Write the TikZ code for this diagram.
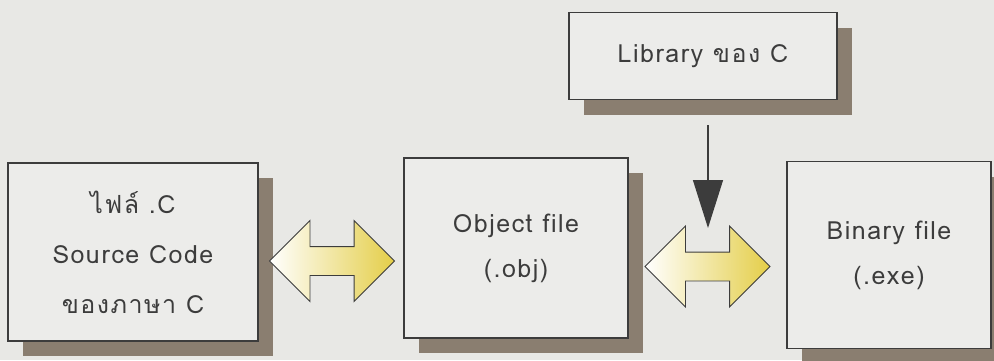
\documentclass[tikz,border=0pt]{standalone}
\usepackage{fontspec}
\newfontfamily\thaifont[Script=Thai,LetterSpace=6]{Loma}
\usetikzlibrary{shapes.arrows,shadows,arrows.meta,calc}

\definecolor{paper}{RGB}{232,232,229}
\definecolor{boxfill}{RGB}{236,236,234}
\definecolor{shadowbrown}{RGB}{138,126,112}
\definecolor{arrowyellow}{RGB}{228,206,72}
\definecolor{inkgray}{RGB}{60,60,60}

\begin{document}
\begin{tikzpicture}[x=1pt,y=-1pt,
  box/.style={draw=inkgray,line width=1.3pt,fill=boxfill,inner sep=0pt,
    align=center,text=inkgray,font=\thaifont\fontsize{25}{45}\selectfont,
    drop shadow={shadow xshift=15pt,shadow yshift=-15pt,fill=shadowbrown,opacity=1}},
  both/.style={double arrow,draw=inkgray,line width=0.9pt,inner xsep=0pt,inner ysep=14pt,
    minimum height=125pt,minimum width=80pt,double arrow head extend=26pt,
    double arrow tip angle=90,left color=white,right color=arrowyellow}]

\useasboundingbox (0,0) rectangle (994,360);
\fill [paper] (0,0) rectangle (994,360);

\node (src) at (133,252) [box,minimum width=250pt,minimum height=178pt,
  font=\thaifont\fontsize{25}{50}\selectfont] {ไฟล์ .C\\Source Code\\ของภาษา C};
\node (obj) at (516,248) [box,minimum width=224pt,minimum height=180pt] {Object file\\(.obj)};
\node (bin) at (889,255) [box,minimum width=204pt,minimum height=187pt] {Binary file\\(.exe)};
\node (lib) at (703,56) [box,minimum width=268pt,minimum height=87pt] {Library ของ C};

\node (srcobj) at ($(src.east)!0.5!(obj.west)+(1,11)$) [both] {};
\node (objbin) at ($(obj.east)!0.5!(bin.west)+(0,15)$) [both] {};

\coordinate (join) at (708,228);
\draw [line width=1.3pt,draw=inkgray,-{Triangle[width=30pt,length=48pt]},shorten <=25pt]
  (lib.south -| join) -- (join);

\end{tikzpicture}
\end{document}
